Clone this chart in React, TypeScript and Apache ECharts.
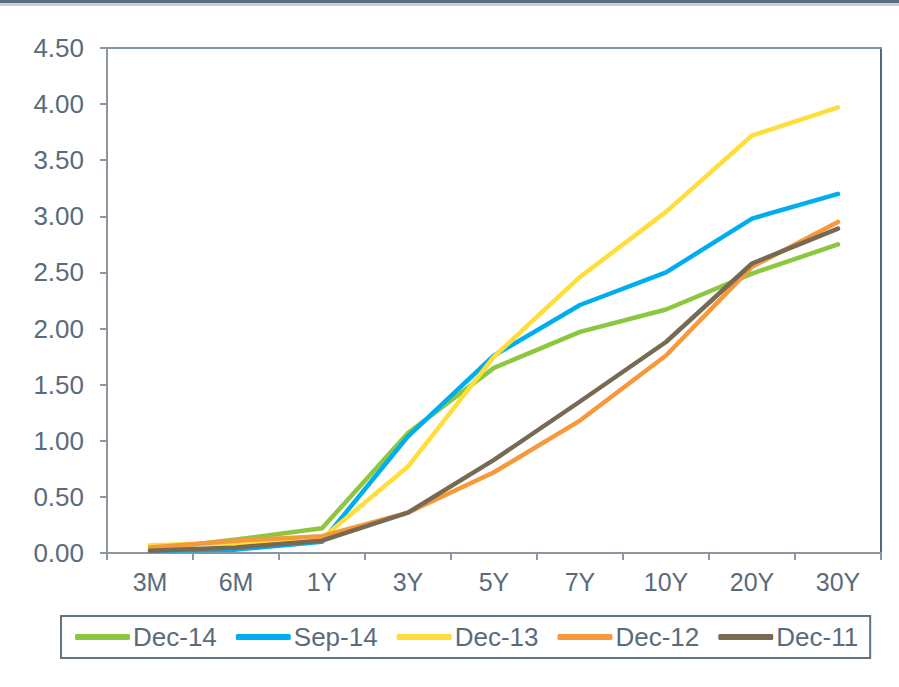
import React, { useEffect, useRef } from "react";
import * as echarts from "echarts";

const categories = ["3M", "6M", "1Y", "3Y", "5Y", "7Y", "10Y", "20Y", "30Y"];
const seriesNames = ["Dec-14", "Sep-14", "Dec-13", "Dec-12", "Dec-11"];
const dec14 = [0.03, 0.12, 0.22, 1.07, 1.65, 1.97, 2.17, 2.49, 2.75];
const sep14 = [0.02, 0.03, 0.1, 1.04, 1.76, 2.21, 2.5, 2.98, 3.2];
const dec13 = [0.07, 0.09, 0.13, 0.77, 1.75, 2.46, 3.04, 3.72, 3.97];
const dec12 = [0.05, 0.11, 0.15, 0.36, 0.72, 1.18, 1.76, 2.55, 2.95];
const dec11 = [0.02, 0.05, 0.11, 0.36, 0.83, 1.35, 1.88, 2.58, 2.89];
const seriesValues = [dec14, sep14, dec13, dec12, dec11];
const colors = ["#8DC63F", "#00AEEF", "#FFDE3B", "#F7993A", "#776A53"];

const FONT = "'Liberation Sans', Arial, sans-serif";
const TEXT = "#5A6B7B";
const AXIS = "#8E979F";

export default function App() {
  const ref = useRef<HTMLDivElement>(null);
  useEffect(() => {
    if (!ref.current) return;
    const chart = echarts.init(ref.current, undefined, { renderer: "svg" });
    chart.setOption({
      animation: false,
      backgroundColor: "#ffffff",
      textStyle: { fontFamily: FONT },
      graphic: [
        { type: "rect", left: 0, top: 0, shape: { width: 899, height: 3 }, style: { fill: "#5A6C7E" }, silent: true },
        { type: "rect", left: 0, top: 3, shape: { width: 899, height: 3 }, style: { fill: "#C9CED6" }, silent: true },
      ],
      grid: { left: 107, right: 18, top: 48, bottom: 134, containLabel: false },
      legend: {
        left: 61,
        top: 616,
        data: seriesNames,
        icon: "roundRect",
        itemWidth: 55,
        itemHeight: 6,
        itemGap: 19,
        padding: [8, 12, 8, 14],
        borderColor: "#627384",
        borderWidth: 2,
        textStyle: { color: TEXT, fontSize: 26, fontFamily: FONT, padding: [0, 0, 0, -2] },
      },
      xAxis: [
        {
          type: "category",
          data: categories,
          boundaryGap: true,
          axisLine: { lineStyle: { color: AXIS, width: 2 } },
          axisTick: { show: true, length: 7, lineStyle: { color: AXIS, width: 2 } },
          axisLabel: { color: TEXT, fontSize: 25, fontFamily: FONT, margin: 16 },
          splitLine: { show: false },
        },
        {
          type: "category",
          data: categories,
          position: "top",
          axisLine: { show: true, onZero: false, lineStyle: { color: "#8595A5", width: 2 } },
          axisTick: { show: false },
          axisLabel: { show: false },
          splitLine: { show: false },
        },
      ],
      yAxis: [
        {
          type: "value",
          min: 0,
          max: 4.5,
          interval: 0.5,
          axisLine: { show: true, lineStyle: { color: AXIS, width: 2 } },
          axisTick: { show: true, length: 7, lineStyle: { color: AXIS, width: 2 } },
          axisLabel: {
            color: TEXT,
            fontSize: 26,
            fontFamily: FONT,
            margin: 23,
            formatter: (v: number) => v.toFixed(2),
          },
          splitLine: { show: false },
        },
        {
          type: "value",
          min: 0,
          max: 4.5,
          interval: 0.5,
          position: "right",
          axisLine: { show: true, onZero: false, lineStyle: { color: "#56697A", width: 2 } },
          axisTick: { show: false },
          axisLabel: { show: false },
          splitLine: { show: false },
        },
      ],
      series: seriesNames.map((name, i) => ({
        name,
        type: "line",
        data: seriesValues[i],
        xAxisIndex: 0,
        yAxisIndex: 0,
        showSymbol: false,
        symbol: "none",
        color: colors[i],
        lineStyle: { color: colors[i], width: 4.5, cap: "round", join: "round" },
        itemStyle: { color: colors[i] },
      })),
    });
    return () => chart.dispose();
  }, []);
  return (
    <div
      ref={ref}
      style={{ position: "fixed", left: 0, top: 0, width: 899, height: 687 }}
    />
  );
}
